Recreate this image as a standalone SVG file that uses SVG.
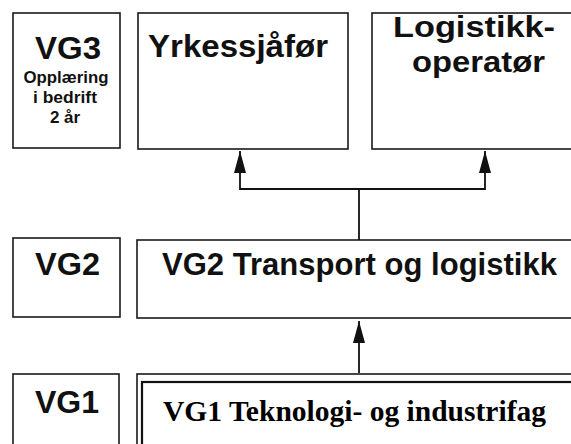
<svg xmlns="http://www.w3.org/2000/svg" width="571" height="444" viewBox="0 0 571 444">
<style>
.box{fill:#fff;stroke:#1a1a1a;stroke-width:1.6}
.inner{fill:#fff;stroke:#111;stroke-width:2.2}
.t{font-family:"Liberation Sans",Arial,sans-serif;font-weight:bold;fill:#111}
.s{font-family:"Liberation Serif","Times New Roman",serif;font-weight:bold;fill:#000}
.ln{fill:none;stroke:#111;stroke-width:1.8}
</style>
<defs>
<marker id="ah" viewBox="0 0 22 12" refX="22" refY="6" markerWidth="22" markerHeight="12" markerUnits="userSpaceOnUse" orient="auto">
<path d="M0,0 L22,6 L0,12 Z" fill="#111"/>
</marker>
</defs>
<rect width="571" height="444" fill="#fff"/>
<g id="vg3">
<rect class="box" x="13" y="13" width="107" height="135"/>
<text class="t" x="68" y="59" font-size="31" text-anchor="middle" textLength="66" lengthAdjust="spacingAndGlyphs">VG3</text>
<text class="t" x="66" y="83" font-size="16" text-anchor="middle" textLength="85" lengthAdjust="spacingAndGlyphs">Opplæring</text>
<text class="t" x="65" y="103" font-size="17" text-anchor="middle" textLength="64" lengthAdjust="spacingAndGlyphs">i bedrift</text>
<text class="t" x="65" y="123" font-size="17" text-anchor="middle">2 år</text>
</g>
<g id="yrkessjafor">
<rect class="box" x="138" y="13" width="210" height="136"/>
<text class="t" x="148" y="57" font-size="32" textLength="180" lengthAdjust="spacingAndGlyphs">Yrkessjåfør</text>
</g>
<g id="logistikkoperator">
<rect class="box" x="372" y="13" width="210" height="136"/>
<text class="t" x="393" y="37" font-size="30" textLength="162" lengthAdjust="spacingAndGlyphs">Logistikk-</text>
<text class="t" x="412" y="72" font-size="30" textLength="133" lengthAdjust="spacingAndGlyphs">operatør</text>
</g>
<g id="vg2label">
<rect class="box" x="13" y="238" width="107" height="79"/>
<text class="t" x="35" y="275" font-size="32" textLength="65" lengthAdjust="spacingAndGlyphs">VG2</text>
</g>
<g id="vg2">
<rect class="box" x="137" y="240" width="445" height="78"/>
<text class="t" x="162" y="275" font-size="31" textLength="395" lengthAdjust="spacingAndGlyphs">VG2 Transport og logistikk</text>
</g>
<g id="vg1label">
<rect class="box" x="13" y="374" width="106" height="80"/>
<text class="t" x="35" y="413" font-size="32" textLength="64" lengthAdjust="spacingAndGlyphs">VG1</text>
</g>
<g id="vg1">
<rect class="box" x="137" y="374" width="445" height="80"/>
<rect class="inner" x="142" y="382" width="440" height="80"/>
<text class="s" x="163" y="421" font-size="29" textLength="383" lengthAdjust="spacingAndGlyphs">VG1 Teknologi- og industrifag</text>
</g>
<g id="connectors">
<path class="ln" d="M359,240 V189 H240 V151" marker-end="url(#ah)"/>
<path class="ln" d="M359,189 H485 V151" marker-end="url(#ah)"/>
<path class="ln" d="M359,373 V321" marker-end="url(#ah)"/>
</g>
</svg>
